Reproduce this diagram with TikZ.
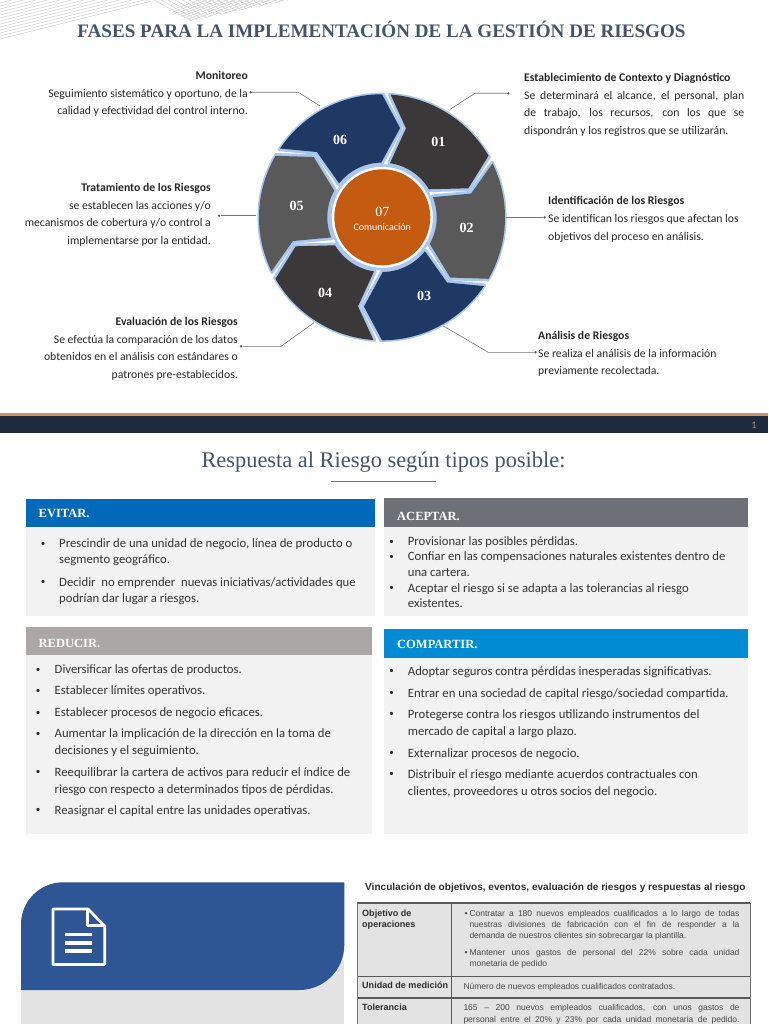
\documentclass[tikz,border=0pt]{standalone}
\usepackage{fontspec}
\setmainfont{Liberation Serif}
\setsansfont{Carlito}
\newfontfamily\tablefont{Liberation Sans}
\usepackage{xcolor}
\usetikzlibrary{positioning,calc}

\definecolor{titulo}{HTML}{44546A}
\definecolor{oscuro}{HTML}{3A3838}
\definecolor{medio}{HTML}{595959}
\definecolor{marino}{HTML}{1F3864}
\definecolor{borde}{HTML}{A9C6EE}
\definecolor{naranja}{HTML}{C55A11}
\definecolor{fondo}{HTML}{F2F2F2}
\definecolor{panel}{HTML}{2E5594}
\definecolor{gristabla}{HTML}{E3E3E3}
\definecolor{barra}{HTML}{1E2A3E}
\definecolor{tostado}{HTML}{C09A6B}
\definecolor{evitarc}{HTML}{0069B9}
\definecolor{reducirc}{HTML}{ABA7A7}
\definecolor{aceptarc}{HTML}{6D7175}
\definecolor{compartirc}{HTML}{008BD2}

\newcommand{\segmento}{(86:123pt) arc[start angle=86,end angle=30,radius=123pt]
  -- (86.3,29) -- (30.8:54.7pt) arc[start angle=30.8,end angle=81.6,radius=54.7pt]
  -- (24,89) -- cycle}

\tikzset{
  bloque/.style={inner sep=0pt,font=\sffamily\fontsize{11.7}{17.7}\selectfont,text=black!85},
  guia/.style={draw=black!55,line width=0.6pt},
  punta/.style={circle,fill=black!65,inner sep=0pt,minimum size=2.6pt},
  numero/.style={text=white,font=\bfseries\fontsize{14}{14}\selectfont,inner sep=0pt},
  cabecera/.style={anchor=base west,text=white,font=\bfseries\fontsize{12.5}{12.5}\selectfont,inner sep=0pt},
  linea/.style={anchor=base west,inner sep=0pt,text=black!80,font=\sffamily\fontsize{12.7}{12.7}\selectfont},
  vineta/.style={anchor=base,inner sep=0pt,text=black!85,font=\sffamily\fontsize{9}{9}\selectfont},
  tabla/.style={anchor=base west,inner sep=0pt,text=black!72,font=\tablefont\fontsize{8.5}{8.5}\selectfont},
  tablab/.style={tabla,text=black!82,font=\tablefont\bfseries\fontsize{9.05}{9.05}\selectfont},
}

\begin{document}
\begin{tikzpicture}[x=1pt,y=-1pt]
\useasboundingbox (0,0) rectangle (768,1024);

% esquina
\begin{scope}
\clip (0,0) rectangle (150,40);
\foreach \y in {3,6,...,39}
\draw[black!22,line width=0.4pt] (0,\y) -- ({\y*4},0);
\end{scope}
\begin{scope}
\clip (147,0) -- (190,21) -- (289,0) -- cycle;
\foreach \x in {140,147,...,290}
\draw[black!22,line width=0.4pt] (\x,0) -- (\x+38,21);
\foreach \x in {140,147,...,290}
\draw[black!22,line width=0.4pt] (\x,21) -- (\x+60,0);
\end{scope}

\node[anchor=base,inner sep=0pt,text=titulo,font=\bfseries\fontsize{19.1}{19.1}\selectfont] (titulo1) at (381.5,38) {FASES PARA LA IMPLEMENTACIÓN DE LA GESTIÓN DE RIESGOS};

% rueda
\begin{scope}
\clip (382,217.3) circle[radius=124.6pt];
\foreach \a in {0,-60,-120,-180,-240,-300}
{
\begin{scope}[shift={(382,217.3)},rotate=\a,x=1pt,y=1pt]
\draw[draw=borde,fill=borde,line width=5.5pt,line join=round] \segmento;
\end{scope}
}
\end{scope}
\foreach \a/\col in {0/oscuro,-60/medio,-120/marino,-180/oscuro,-240/medio,-300/marino}
{
\begin{scope}[shift={(382,217.3)},rotate=\a,x=1pt,y=1pt]
\fill[\col] \segmento;
\end{scope}
}
\foreach \n/\x/\y in {01/438.3/141.7,02/466.7/228.3,03/424/295.7,04/325/292.7,05/296.7/205.7,06/340/140}
\node[numero] (seg\n) at (\x,\y) {\n};

\node[circle,fill=borde,inner sep=0pt,minimum size=106pt] (anillo) at (382.3,217.3) {};
\node[circle,fill=white,inner sep=0pt,minimum size=101pt] (blanco) at (anillo) {};
\node[circle,fill=naranja,inner sep=0pt,minimum size=96pt] (centro) at (anillo) {};
\node[text=white,inner sep=0pt,font=\fontsize{14}{14}\selectfont] (n07) at (382.3,212) {07};
\node[text=white,inner sep=0pt,font=\sffamily\fontsize{10}{10}\selectfont] (comunica) at (382.3,227.5) {Comunicación};

% textos de la rueda
\node[bloque,anchor=north east,align=right] (monitoreo) at (248,71) {\textbf{Monitoreo}\\Seguimiento sistemático y oportuno, de la\\calidad y efectividad del control interno.};
\node[bloque,anchor=north west,align=left] (contexto) at (524,73) {\textbf{Establecimiento de Contexto y Diagnóstico}\\\makebox[220pt][s]{Se determinará el alcance, el personal, plan}\\\makebox[220pt][s]{de trabajo, los recursos, con los que se}\\dispondrán y los registros que se utilizarán.};
\node[bloque,anchor=north west,align=left] (identifica) at (548,196.5) {\textbf{Identificación de los Riesgos}\\Se identifican los riesgos que afectan los\\objetivos del proceso en análisis.};
\node[bloque,anchor=north west,align=left] (analisis) at (538,331) {\textbf{Análisis de Riesgos}\\Se realiza el análisis de la información\\previamente recolectada.};
\node[bloque,anchor=north east,align=right] (tratamiento) at (211,183) {\textbf{Tratamiento de los Riesgos}\\se establecen las acciones y/o\\mecanismos de cobertura y/o control a\\implementarse por la entidad.};
\node[bloque,anchor=north east,align=right] (evaluacion) at (238,317) {\textbf{Evaluación de los Riesgos}\\Se efectúa la comparación de los datos\\obtenidos en el análisis con estándares o\\patrones pre-establecidos.};

% guias
\node[punta] (p6) at (250.7,92.3) {};
\node[punta] (p1) at (508.3,93.3) {};
\node[punta] (p2) at (544.5,217.3) {};
\node[punta] (p5) at (219,215.7) {};
\node[punta] (p4) at (241,346.3) {};
\node[punta] (p3) at (535.5,352.3) {};
\coordinate (r6) at (320,106);
\coordinate (r1) at (450,109.3);
\coordinate (r2) at (506,217.3);
\coordinate (r5) at (256,215.7);
\coordinate (r4) at (314,322.7);
\coordinate (r3) at (443.3,326);
\draw[guia] (p6) -- (298.3,92.3) -- (r6);
\draw[guia] (p1) -- (475,93.3) -- (r1);
\draw[guia] (p2) -- (r2);
\draw[guia] (p5) -- (r5);
\draw[guia] (p4) -- (281,346.3) -- (r4);
\draw[guia] (p3) -- (488.3,352.3) -- (r3);

% barra
\fill[tostado] (0,413) rectangle (768,416);
\fill[barra] (0,416) rectangle (768,433);
\node[text=tostado!70!gray,inner sep=0pt,font=\sffamily\fontsize{10}{10}\selectfont] (pagina) at (754,425) {1};

\node[anchor=base,inner sep=0pt,text=titulo,font=\fontsize{22.4}{22.4}\selectfont] (titulo2) at (383.5,467.5) {Respuesta al Riesgo según tipos posible:};
\draw[black!55,line width=1pt] (331,481) -- (436,481);

% paneles
\fill[fondo] (26,527) rectangle (375,616);
\fill[fondo] (26,655) rectangle (372,834);
\fill[fondo] (384,527) rectangle (748,616);
\fill[fondo] (384,658) rectangle (748,834);
\fill[evitarc] (26,499) rectangle (375,527);
\fill[reducirc] (26,627) rectangle (372,655);
\fill[aceptarc] (384,498) rectangle (748,527);
\fill[compartirc] (384,629) rectangle (748,658);
\node[cabecera] (evitar) at (38.5,517.7) {EVITAR.};
\node[cabecera] (reducir) at (38.5,647) {REDUCIR.};
\node[cabecera] (aceptar) at (397,520) {ACEPTAR.};
\node[cabecera] (compartir) at (397,648) {COMPARTIR.};

\foreach \y/\txt [count=\i] in {547/{Prescindir de una unidad de negocio, línea de producto o},563/{segmento geográfico.},586/{Decidir\ \ no emprender\ \ nuevas iniciativas/actividades que},602/{podrían dar lugar a riesgos.}}
\node[linea] (ev\i) at (59,\y) {\txt};
\foreach \y/\txt [count=\i] in {673/{Diversificar las ofertas de productos.},694/{Establecer límites operativos.},716.7/{Establecer procesos de negocio eficaces.},737.7/{Aumentar la implicación de la dirección en la toma de},754.7/{decisiones y el seguimiento.},776/{Reequilibrar la cartera de activos para reducir el índice de},793/{riesgo con respecto a determinados tipos de pérdidas.},814/{Reasignar el capital entre las unidades operativas.}}
\node[linea] (re\i) at (54.5,\y) {\txt};
\foreach \y/\txt [count=\i] in {545/{Provisionar las posibles pérdidas.},560.7/{Confiar en las compensaciones naturales existentes dentro de},576.7/{una cartera.},592/{Aceptar el riesgo si se adapta a las tolerancias al riesgo},607/{existentes.}}
\node[linea] (ac\i) at (407.7,\y) {\txt};
\foreach \y/\txt [count=\i] in {675/{Adoptar seguros contra pérdidas inesperadas significativas.},697/{Entrar en una sociedad de capital riesgo/sociedad compartida.},718/{Protegerse contra los riesgos utilizando instrumentos del},735.7/{mercado de capital a largo plazo.},757/{Externalizar procesos de negocio.},778/{Distribuir el riesgo mediante acuerdos contractuales con},795/{clientes, proveedores u otros socios del negocio.}}
\node[linea] (co\i) at (407.7,\y) {\txt};

\foreach \y [count=\i] in {546,584}
\node[vineta] (bev\i) at (43,\y) {•};
\foreach \y [count=\i] in {672,693,715,736,774,812}
\node[vineta] (bre\i) at (38,\y) {•};
\foreach \y [count=\i] in {544,559,590}
\node[vineta] (bac\i) at (391.7,\y) {•};
\foreach \y [count=\i] in {673,695,716,755,776}
\node[vineta] (bco\i) at (391.7,\y) {•};

% panel azul e icono
\fill[gristabla] (21,960) rectangle (344.3,1024);
\fill[panel] (21,990) -- (21,924.3) .. controls (21,901) and (40,882.3) .. (63,882.3) -- (344.3,882.3) -- (344.3,945) .. controls (344.3,970) and (324,990) .. (299,990) -- cycle;
\draw[white,line width=2.7pt,line join=round] (53,909) -- (88,909) -- (104.7,926) -- (104.7,964.4) -- (53,964.4) -- cycle;
\draw[white,line width=2.5pt,line join=round] (87.3,909) -- (87.3,925.5) -- (104.7,925.5);
\foreach \y in {934.3,942.7,951}
\draw[white,line width=3.6pt] (65,\y) -- (92.3,\y);

% tabla
\node[tablab,font=\tablefont\bfseries\fontsize{10.05}{10.05}\selectfont] (tabtitulo) at (365,890) {Vinculación de objetivos, eventos, evaluación de riesgos y respuestas al riesgo};
\fill[gristabla] (357,903) rectangle (750,1024);
\draw[black!65,line width=1.3pt] (357,903) -- (750,903);
\draw[black!65,line width=1.3pt] (357,976.7) -- (750,976.7);
\draw[black!65,line width=1.3pt] (357,998) -- (750,998);
\draw[black!55,line width=0.6pt] (357,903) -- (357,1024);
\draw[black!55,line width=0.6pt] (750,903) -- (750,1024);
\draw[black!65,line width=0.7pt] (451,903) -- (451,1024);

\foreach \y/\txt [count=\i] in {916.7/{Objetivo de},927.7/{operaciones},988/{Unidad de medición},1010.7/{Tolerancia}}
\node[tablab] (izq\i) at (362,\y) {\txt};
\node[tabla] (bt1) at (464.5,916.7) {•};
\node[tabla] (bt2) at (464.5,955) {•};
\foreach \y/\txt [count=\i] in {916.7/{Contratar a 180 nuevos empleados cualificados a lo largo de todas},927.7/{nuestras divisiones de fabricación con el fin de responder a la},955/{Mantener unos gastos de personal del 22\% sobre cada unidad}}
\node[tabla] (tb\i) at (469.3,\y) {\makebox[270pt][s]{\txt}};
\foreach \y/\txt [count=\i] in {938.3/{demanda de nuestros clientes sin sobrecargar la plantilla.},966.7/{monetaria de pedido}}
\node[tabla] (tc\i) at (469.3,\y) {\txt};
\node[tabla] (ta1) at (463.3,989) {Número de nuevos empleados cualificados contratados.};
\node[tabla] (ta2) at (463.3,1010.7) {\makebox[276pt][s]{165 – 200 nuevos empleados cualificados, con unos gastos de}};
\node[tabla] (ta3) at (463.3,1022) {\makebox[276pt][s]{personal entre el 20\% y 23\% por cada unidad monetaria de pedido.}};
\end{tikzpicture}
\end{document}
